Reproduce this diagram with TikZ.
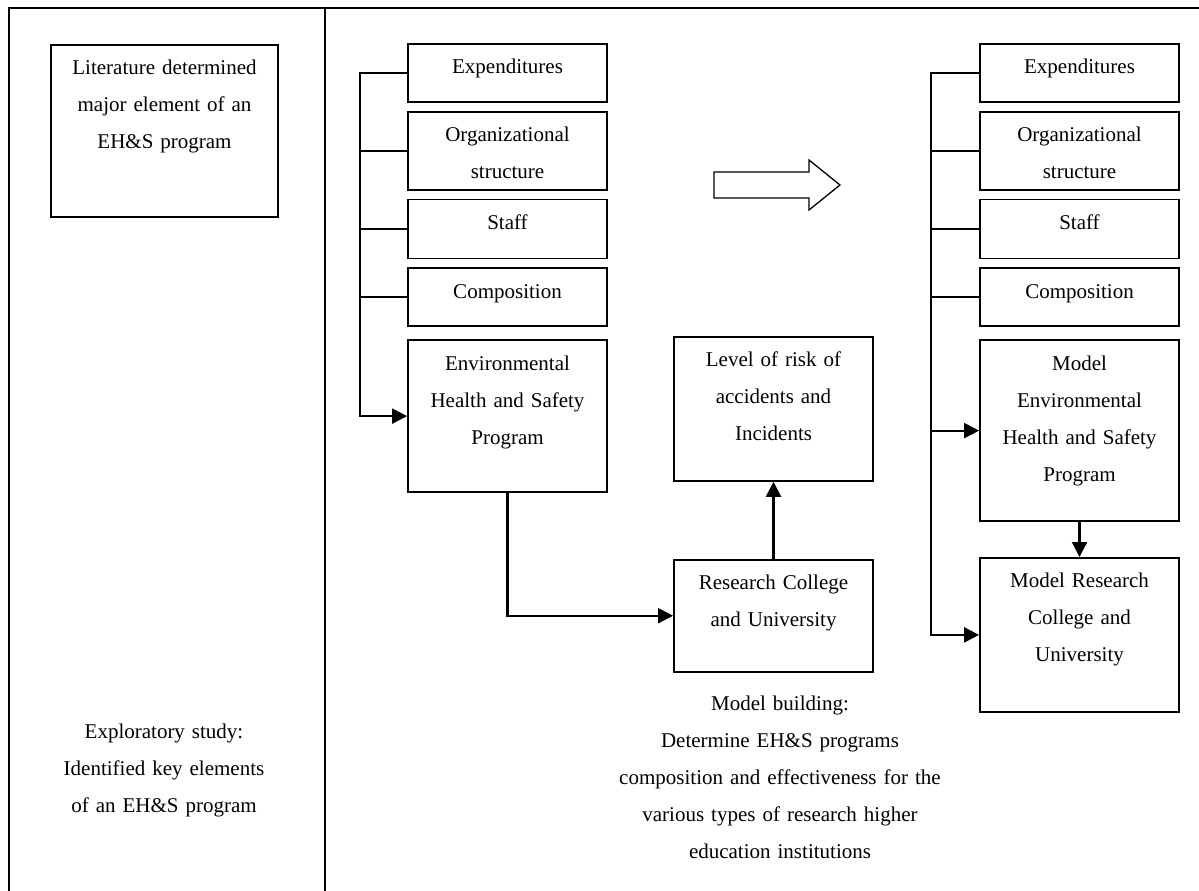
\documentclass[tikz,border=0pt]{standalone}
\usepackage{fontspec}
\setmainfont{Liberation Serif}
\usetikzlibrary{positioning,arrows.meta,calc}

\begin{document}
\begin{tikzpicture}[
  x=1pt, y=-1pt,
  node distance=8pt,
  every node/.style={font=\fontsize{21}{37}\selectfont},
  cell/.style={draw, line width=1.8pt, anchor=north, align=center,
               text width=191pt, inner xsep=4pt, inner ysep=16pt, text height=14pt},
  note/.style={anchor=base, align=center, text width=420pt, inner sep=0pt},
  link/.style={line width=1.9pt},
  arr/.style={-{Triangle[length=15pt,width=15pt]}, line width=2.1pt},
  frame/.style={line width=1.8pt}
]
  \useasboundingbox (0,0) rectangle (1199,891);

  % Frame: outer edge and panel divider
  \draw[frame] (9,891) -- (9,8) -- (1199,8);
  \draw[frame] (325,8) -- (325,891);

  % Left panel
  \node[cell, text width=219pt, text depth=126pt] (lit) at (164.5,44)
    {Literature determined\\major element of an\\EH\&S program};
  \node[note, text width=250pt] (explore) at (164,738)
    {Exploratory study:\\Identified key elements\\of an EH\&S program};

  % Column 1: elements feeding the EH&S program
  \node[cell, text depth=12pt] (expL) at (507.5,43) {Expenditures};
  \node[cell, text depth=32pt, below=of expL] (orgL) {Organizational\\structure};
  \node[cell, text depth=13pt, below=of orgL] (staffL) {Staff};
  \node[cell, text depth=12pt, below=of staffL] (compL) {Composition};
  \node[cell, text depth=106pt, below=12pt of compL] (ehs)
    {Environmental\\Health and Safety\\Program};

  % Column 2: institution and risk
  \node[cell, text depth=98pt] (risk) at (773.5,336)
    {Level of risk of\\accidents and\\Incidents};
  \node[cell, text depth=66pt, below=77pt of risk] (rc)
    {Research College\\and University};

  % Column 3: model
  \node[cell, text depth=12pt] (expR) at (1079.5,43) {Expenditures};
  \node[cell, text depth=32pt, below=of expR] (orgR) {Organizational\\structure};
  \node[cell, text depth=13pt, below=of orgR] (staffR) {Staff};
  \node[cell, text depth=12pt, below=of staffR] (compR) {Composition};
  \node[cell, text depth=135pt, below=12pt of compR] (mehs)
    {Model\\Environmental\\Health and Safety\\Program};
  \node[cell, text depth=108pt, below=35pt of mehs] (mrc)
    {Model Research\\College and\\University};

  \node[note] (build) at (780,710)
    {Model building:\\Determine EH\&S programs\\composition and effectiveness for the\\various types of research higher\\education institutions};

  % Hollow block arrow between columns
  \draw[line width=1.3pt] (714,172) -- (809,172) -- (809,160) -- (840,185)
    -- (809,210) -- (809,198) -- (714,198) -- cycle;

  % Connectors
  \draw[arr] (expL.west) -- ++(-47,0) coordinate (busL) |- (ehs.west);
  \foreach \n in {orgL,staffL,compL}
    \draw[link] (\n.west) -- (\n.west -| busL);
  \draw[arr] (ehs.south) |- (rc.west);
  \draw[arr] (rc.north) -- (risk.south);

  \draw[arr] (expR.west) -- ++(-48,0) coordinate (busR) |- (mrc.west);
  \foreach \n in {orgR,staffR,compR}
    \draw[link] (\n.west) -- (\n.west -| busR);
  \draw[arr] (mehs.west -| busR) -- (mehs.west);
  \draw[arr] (mehs.south) -- (mrc.north);
\end{tikzpicture}
\end{document}
